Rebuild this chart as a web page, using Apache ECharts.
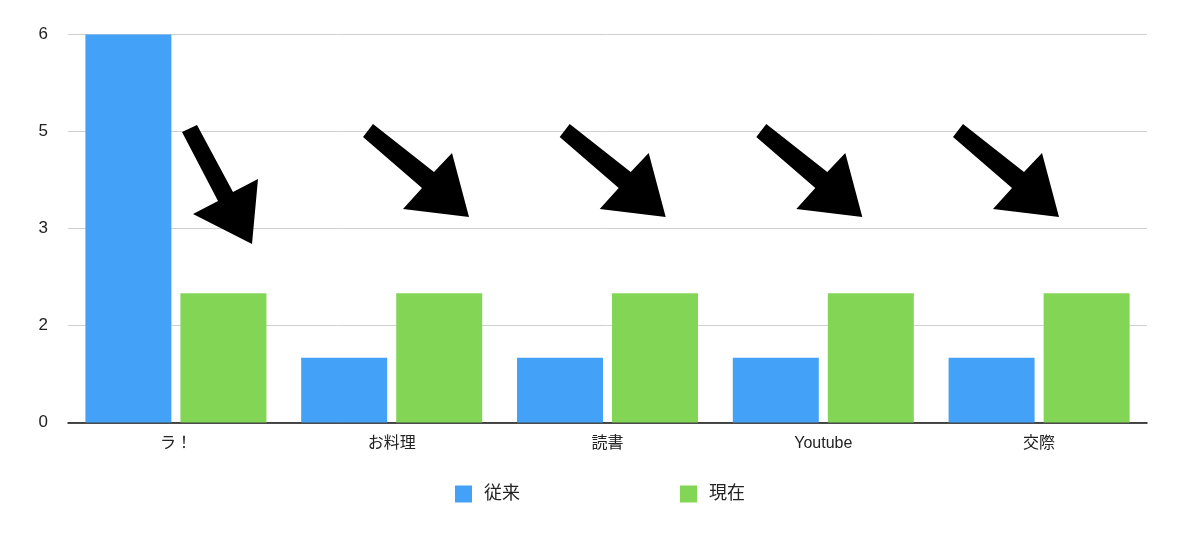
<!DOCTYPE html>
<html>
<head>
<meta charset="utf-8">
<script src="https://cdn.jsdelivr.net/npm/echarts@6/dist/echarts.min.js"></script>
<style>
html,body{margin:0;padding:0;background:#fff;}
#chart{width:1200px;height:538px;}
</style>
</head>
<body>
<div id="chart"></div>
<script>
const categories = ['ラ！', 'お料理', '読書', 'Youtube', '交際'];
const seriesNames = ['従来', '現在'];
const before = [6, 1, 1, 1, 1];
const now = [2, 2, 2, 2, 2];

const FONT = '"Liberation Sans", "Noto Sans CJK JP", sans-serif';

// arrow annotations (decorative)
const arrow1 = [[197,125],[233,192],[258,179],[252,244],[193,214],[218,201],[182,132]];
const arrowBase = [[373,124],[434,172],[452,153],[469,217],[403,209],[422,188],[363,137]];
const arrowOffsets = [0, 196.7, 393.3, 590];
const graphics = [{type:'polygon', shape:{points:arrow1}, style:{fill:'#000'}, z:100}];
arrowOffsets.forEach(function(dx){
  graphics.push({type:'polygon', shape:{points:arrowBase.map(p=>[p[0]+dx,p[1]])}, style:{fill:'#000'}, z:100});
});

const chart = echarts.init(document.getElementById('chart'));
chart.setOption({
  animation:false,
  grid:{left:68, right:53, top:34.5, bottom:115.5, containLabel:false},
  legend:{
    left:'center', top:480, itemWidth:17, itemHeight:17, itemGap:160, icon:'rect',
    textStyle:{fontSize:18, color:'#222', fontFamily:FONT, padding:[0,0,0,7]},
    data:seriesNames
  },
  xAxis:{
    type:'category', data:categories,
    axisLine:{lineStyle:{color:'#111', width:1.5}},
    axisTick:{show:false},
    axisLabel:{fontSize:16, color:'#222', fontFamily:FONT, margin:13}
  },
  yAxis:{
    type:'value', min:0, max:6, interval:1.5,
    axisLine:{show:false}, axisTick:{show:false},
    splitLine:{lineStyle:{color:'#d0d0d0', width:1}},
    axisLabel:{fontSize:17, color:'#222', fontFamily:FONT, margin:20,
      formatter:function(v){return String(Math.round(v));}}
  },
  series:[
    {name:seriesNames[0], type:'bar', data:before, barWidth:86, barGap:'10.5%', itemStyle:{color:'#44a1f8'}},
    {name:seriesNames[1], type:'bar', data:now, barWidth:86, itemStyle:{color:'#83d556'}}
  ],
  graphic:graphics
});
</script>
</body>
</html>
